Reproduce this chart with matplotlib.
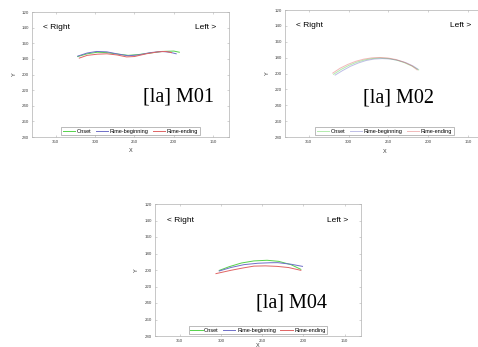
import matplotlib.pyplot as plt

plt.rcParams.update({
    "font.family": ["Liberation Sans", "DejaVu Sans"],
    "axes.edgecolor": "#b0b0b0",
    "axes.linewidth": 0.5,
})

labels = ["Onset", "Rime-beginning", "Rime-ending"]
colors = ["#55d24a", "#6f6fc8", "#e06464"]
titles = ["[la] M01", "[la] M02", "[la] M04"]

# panel 1 (M01)
m01_on_x = [322, 310, 297, 285, 270, 258, 245, 230, 215, 200, 193]
m01_on_y = [177, 173.5, 171.5, 172, 174, 175.5, 174.5, 172.5, 170.5, 170, 171.5]
m01_rb_x = [322, 310, 298, 285, 270, 258, 245, 230, 215, 205, 197]
m01_rb_y = [176.5, 172.5, 170.5, 171, 174, 176, 175, 172, 170.5, 171.5, 173.5]
m01_re_x = [320, 310, 297, 285, 272, 260, 250, 235, 220, 210, 203]
m01_re_y = [179, 175.5, 174, 173.5, 175, 177.5, 177, 173.5, 171, 170.5, 172]

# panel 2 (M02)
m02_on_x = [319, 310, 300, 290, 280, 270, 260, 250, 240, 230, 220, 212]
m02_on_y = [201, 195.2, 189.9, 185.8, 182.9, 181.1, 180.5, 181.2, 183.1, 186.4, 190.9, 195.5]
m02_rb_x = [317, 308, 298, 288, 278, 268, 258, 248, 238, 228, 219, 213]
m02_rb_y = [202, 196.5, 191, 186.8, 183.6, 181.8, 181.2, 181.7, 183.4, 186.4, 190.6, 194.5]
m02_re_x = [320, 311, 301, 291, 281, 271, 261, 251, 241, 231, 221, 214]
m02_re_y = [199.5, 193.5, 188.5, 184.6, 181.9, 180.3, 179.8, 180.4, 182.3, 185.5, 190, 195.5]

# panel 3 (M04)
m04_on_x = [302, 290, 275, 260, 244, 230, 215, 203]
m04_on_y = [200.5, 196, 191.5, 189, 188.2, 189.5, 193.5, 199.2]
m04_rb_x = [302, 288, 272, 255, 240, 231, 215, 201]
m04_rb_y = [201.2, 197, 193.5, 191.8, 191.2, 191.1, 193, 195.6]
m04_re_x = [306, 288, 273, 260, 246, 232, 218, 203]
m04_re_y = [204.4, 200.4, 197.5, 195.3, 195, 195.6, 197, 200.4]

panels = [
    ((m01_on_x, m01_on_y), (m01_rb_x, m01_rb_y), (m01_re_x, m01_re_y)),
    ((m02_on_x, m02_on_y), (m02_rb_x, m02_rb_y), (m02_re_x, m02_re_y)),
    ((m04_on_x, m04_on_y), (m04_rb_x, m04_rb_y), (m04_re_x, m04_re_y)),
]

W, H = 478, 347
# axes boxes in pixels: left, right, top, bottom
boxes = [(32, 229, 12, 137), (285, 484, 10, 137), (155, 361, 204, 336)]
title_pos = [(194, 229), (237, 231), (214, 240)]
xlab_y = [-0.09, -0.093, -0.05]
alphas = [1.0, 0.45, 1.0]

fig = plt.figure(figsize=(W / 100, H / 100), dpi=100)

for i, (l, r, t, b) in enumerate(boxes):
    ax = fig.add_axes([l / W, 1 - b / H, (r - l) / W, (b - t) / H])
    for (xs, ys), lab, c in zip(panels[i], labels, colors):
        ax.plot(xs, ys, color=c, lw=0.7, alpha=alphas[i], label=lab)
    ax.set_xlim(380, 130)
    ax.set_ylim(280, 120)
    ax.set_xticks([350, 300, 250, 200, 150])
    ax.set_yticks(range(120, 281, 20))
    ax.tick_params(direction="in", length=1.5, width=0.4, colors="#b0b0b0",
                   labelcolor="#444444", labelsize=3.2, pad=2,
                   top=True, right=True)
    ax.set_xlabel("X", fontsize=4, color="#333333")
    ax.set_ylabel("Y", fontsize=4, color="#333333")
    ax.xaxis.set_label_coords(0.5, xlab_y[i])
    ax.yaxis.set_label_coords(-0.078, 0.5)
    ax.text(366, 140, "< Right", fontsize=6, ha="left", va="center")
    ax.text(146, 140, "Left >", fontsize=6, ha="right", va="center")
    ax.text(title_pos[i][0], title_pos[i][1], titles[i], fontsize=14.5,
            family="Liberation Serif", ha="center", va="center")
    leg = ax.legend(loc="lower center", ncol=3, fontsize=4, frameon=True,
                    fancybox=False, handlelength=2.2, handletextpad=0.3,
                    columnspacing=0.8, borderpad=0.3, borderaxespad=0.3)
    leg.get_frame().set_edgecolor("#888888")
    leg.get_frame().set_linewidth(0.5)

plt.savefig("out.png", dpi=100)
